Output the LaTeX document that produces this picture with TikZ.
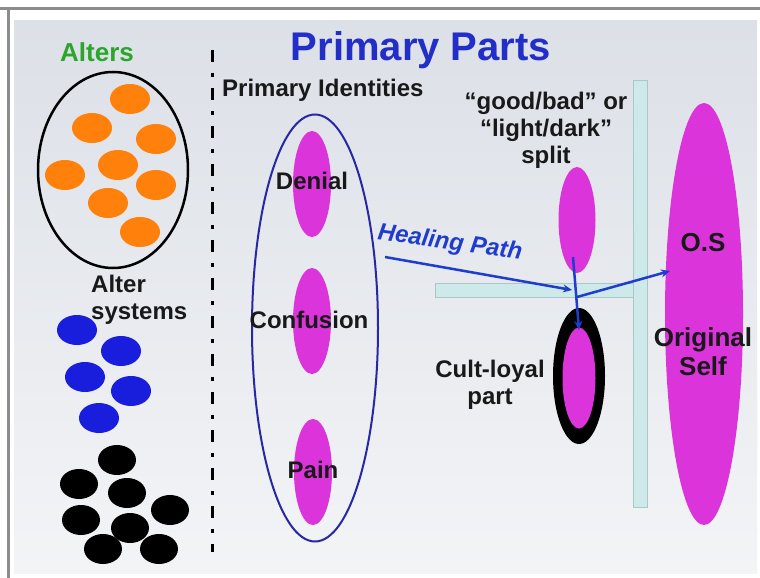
\documentclass[tikz,border=0pt]{standalone}
\usepackage{fontspec}
\setmainfont{Liberation Sans}
\usetikzlibrary{shapes.geometric,arrows.meta}
\definecolor{titleblue}{RGB}{35,45,200}
\definecolor{altergreen}{RGB}{45,165,45}
\definecolor{altorange}{RGB}{255,128,10}
\definecolor{altblue}{RGB}{25,30,220}
\definecolor{mag}{RGB}{218,52,218}
\definecolor{rimblue}{RGB}{40,40,165}
\definecolor{arrblue}{RGB}{30,60,205}
\definecolor{barfill}{RGB}{206,233,233}
\definecolor{bardraw}{RGB}{170,200,200}
\definecolor{txt}{RGB}{25,25,25}
\definecolor{bgtop}{RGB}{220,224,231}
\definecolor{bgbot}{RGB}{243,244,246}
\definecolor{framegray}{RGB}{140,140,140}
\tikzset{
  blob/.style={ellipse, inner sep=0pt, minimum width=40pt, minimum height=30pt},
  orangeblob/.style={blob, fill=altorange},
  blueblob/.style={blob, fill=altblue},
  blackblob/.style={blob, fill=black, minimum width=38pt},
  magpart/.style={ellipse, inner sep=0pt, fill=mag},
  lbl/.style={text=txt, font=\fontsize{24}{27}\selectfont\bfseries, align=center, inner sep=0pt},
  bigl/.style={text=txt, font=\fontsize{26}{29}\selectfont\bfseries, align=center, inner sep=0pt},
  bar/.style={fill=barfill, draw=bardraw, line width=0.8pt},
  healarrow/.style={draw=arrblue, line width=2.5pt, -{Stealth[length=9pt,width=8pt]}},
}
\begin{document}
\begin{tikzpicture}[x=1pt,y=-1pt]
\useasboundingbox (0,0) rectangle (760,578);
% frame
\fill[white] (0,0) rectangle (760,578);
\fill[framegray] (0,7.5) rectangle (760,10.5);
\fill[framegray] (6.5,7.5) rectangle (9.5,578);
\shade[top color=bgtop, bottom color=bgbot] (14,21) rectangle (757,573);

% titles
\node[anchor=base, text=titleblue, font=\fontsize{40}{44}\selectfont\bfseries, inner sep=0pt] (title) at (421,61) {Primary Parts};
\node[anchor=base, text=altergreen, font=\fontsize{26}{29}\selectfont\bfseries, inner sep=0pt] (alters) at (97,62) {Alters};
\node[anchor=base west, text=txt, font=\fontsize{24}{27}\selectfont\bfseries, inner sep=0pt] (primid) at (222,96) {Primary Identities};

% dash-dot divider
\coordinate (divtop) at (212,50);
\coordinate (divbot) at (212,552);
\draw[line width=3pt, dash pattern=on 12pt off 11pt on 4pt off 11pt] (divtop) -- (divbot);

% alters ellipse
\node[ellipse, draw=black, line width=2.5pt, minimum width=150pt, minimum height=196pt, inner sep=0pt] (altring) at (113,170) {};
\node[orangeblob] (o1) at (130,99) {};
\node[orangeblob] (o2) at (92,128) {};
\node[orangeblob] (o3) at (156,139) {};
\node[orangeblob] (o4) at (118,165) {};
\node[orangeblob] (o5) at (65,175) {};
\node[orangeblob] (o6) at (156,185) {};
\node[orangeblob] (o7) at (108,203) {};
\node[orangeblob] (o8) at (140,232) {};

\node[lbl, align=left, anchor=west] (altsys) at (91,300) {Alter\\systems};

\node[blueblob] (b1) at (77,330) {};
\node[blueblob] (b2) at (121,351) {};
\node[blueblob] (b3) at (85,377) {};
\node[blueblob] (b4) at (131,391) {};
\node[blueblob] (b5) at (99,418) {};

\node[blackblob] (k1) at (117,460) {};
\node[blackblob] (k2) at (79,484) {};
\node[blackblob] (k3) at (127,493) {};
\node[blackblob] (k4) at (170,510) {};
\node[blackblob] (k5) at (81,520) {};
\node[blackblob] (k6) at (130,528) {};
\node[blackblob] (k7) at (103,549) {};
\node[blackblob] (k8) at (159,549) {};

% primary identities
\node[ellipse, draw=rimblue, line width=2pt, minimum width=126pt, minimum height=427pt, inner sep=0pt] (primring) at (315,328) {};
\node[magpart, minimum width=38pt, minimum height=106pt] (denial) at (312,184) {};
\node[magpart, minimum width=38pt, minimum height=106pt] (confusion) at (312,321) {};
\node[magpart, minimum width=38pt, minimum height=106pt] (pain) at (313,472) {};
\node[lbl] (denialtxt) at (312,181) {Denial};
\node[lbl] (confusiontxt) at (309,320) {Confusion};
\node[lbl] (paintxt) at (313,470) {Pain};

% bars
\node[bar, minimum width=14pt, minimum height=427pt, inner sep=0pt] (vbar) at (640,293.5) {};
\node[bar, minimum width=198pt, minimum height=14pt, inner sep=0pt, anchor=west] (hbar) at (435,290) {};

% split and cult-loyal
\node[lbl] (splittxt) at (546,130) {“good/bad” or\\“light/dark”\\split};
\node[magpart, minimum width=37pt, minimum height=106pt] (split) at (577,220) {};
\node[ellipse, fill=black, inner sep=0pt, minimum width=52pt, minimum height=136pt] (cultring) at (579,376) {};
\node[magpart, minimum width=33pt, minimum height=101pt] (cult) at (579,378) {};
\node[lbl] (culttxt) at (490,385) {Cult-loyal\\part};

% original self
\node[magpart, minimum width=78pt, minimum height=422pt] (os) at (704,314) {};
\node[bigl] (ostxt) at (703,243) {O.S};
\node[bigl] (origtxt) at (703,352) {Original\\Self};

% healing path
\coordinate (hstart) at (385,257);
\coordinate (junc) at (572,290);
\coordinate (vstart) at (573,257);
\coordinate (vend) at (579,330);
\coordinate (branch) at (577,297);
\coordinate (ostip) at (670,271);
\draw[healarrow] (hstart) -- (junc);
\draw[healarrow] (vstart) -- (vend);
\draw[healarrow] (branch) -- (ostip);
\node[text=arrblue, font=\fontsize{24}{27}\selectfont\bfseries\itshape, rotate=-8, inner sep=0pt] (healtxt) at (450,243) {Healing Path};
\end{tikzpicture}
\end{document}
